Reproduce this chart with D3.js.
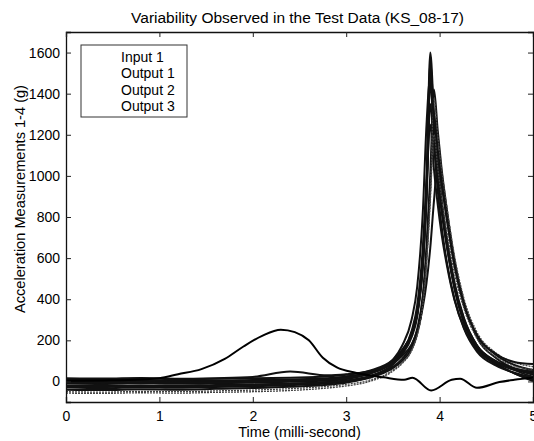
<!DOCTYPE html>
<html>
<head>
<meta charset="utf-8">
<script src="https://cdn.jsdelivr.net/npm/d3@7"></script>
<style>
body { margin: 0; background: #fff; }
svg { font-family: "Liberation Sans", Arial, sans-serif; }
</style>
</head>
<body>
<svg id="drawing_region"></svg>
<script>
// Input 1 (one smooth pulse, then small wiggles)
const inputTime = [0, 0.4, 0.8, 1.0, 1.2, 1.45, 1.7, 1.9, 2.1, 2.3, 2.45, 2.6, 2.75, 2.9, 3.1, 3.4, 3.62, 3.71, 3.91, 4.13, 4.22, 4.4, 4.64, 4.8, 5.0];
const input1 = [3, 5, 10, 16, 35, 60, 110, 170, 222, 252, 240, 200, 115, 68, 42, 20, 8, 18, -44, 8, 13, -31, -3, 8, 18];

// Outputs 1-3 of all tests share one time base
const outTime = [0, 0.4, 0.8, 1.2, 1.6, 2.0, 2.4, 2.8, 3.0, 3.25, 3.5, 3.6, 3.7, 3.76, 3.82, 3.86, 3.9, 3.94, 3.98, 4.02, 4.08, 4.16, 4.26, 4.4, 4.6, 4.8, 5.0];
const run1  = [5, 8, 3, 6, 4, 7, 10, 16, 24, 45, 100, 150, 235, 340, 600, 960, 1600, 1300, 1060, 870, 660, 450, 285, 160, 85, 40, 8];
const run2  = [0, -2, 2, -3, 1, 3, 6, 12, 20, 40, 95, 145, 228, 330, 585, 930, 1550, 1270, 1040, 860, 660, 455, 290, 165, 88, 40, 2];
const run3  = [-10, -12, -8, -11, -9, -6, -2, 4, 12, 38, 105, 175, 300, 460, 820, 1250, 1480, 1160, 930, 760, 575, 400, 258, 145, 78, 42, 18];
const run4  = [-20, -22, -18, -21, -17, -15, -10, -3, 5, 25, 72, 110, 175, 255, 420, 660, 1000, 1420, 1220, 1040, 830, 590, 385, 215, 115, 62, 32];
const run5  = [12, 10, 14, 11, 13, 15, 18, 24, 32, 52, 105, 155, 232, 330, 560, 880, 1350, 1150, 980, 830, 650, 460, 300, 175, 100, 65, 45];
const run6  = [-30, -33, -28, -31, -27, -24, -18, -10, -2, 18, 65, 100, 160, 235, 390, 610, 940, 1300, 1130, 980, 790, 570, 380, 225, 130, 80, 55];
const run7  = [-40, -42, -38, -40, -36, -32, -26, -16, -6, 22, 85, 145, 245, 370, 650, 980, 1250, 1030, 860, 720, 560, 395, 262, 155, 90, 58, 40];
const run8  = [-5, -3, -7, -4, -6, -2, 2, 9, 16, 38, 92, 142, 225, 325, 575, 920, 1450, 1220, 1030, 870, 675, 470, 305, 175, 98, 62, 48];
const run9  = [-50, -52, -48, -50, -46, -42, -35, -24, -14, 6, 55, 92, 150, 225, 370, 580, 900, 1380, 1200, 1040, 840, 610, 405, 240, 140, 92, 72];
const run10 = [15, 14, 17, 13, 16, 22, 48, 30, 35, 50, 90, 125, 180, 245, 360, 480, 650, 880, 1060, 960, 780, 560, 370, 225, 135, 95, 85];
const run11 = [-25, -27, -23, -26, -22, -18, -12, -4, 4, 26, 82, 132, 215, 315, 565, 910, 1500, 1260, 1060, 890, 690, 480, 310, 175, 95, 55, 22];
const run12 = [-57, -58, -55, -57, -53, -50, -44, -32, -22, 0, 50, 88, 150, 225, 370, 570, 870, 1200, 1040, 900, 720, 525, 355, 210, 120, 75, 58];
const runs = [run1, run2, run3, run4, run5, run6, run7, run8, run9, run10, run11, run12];
const dottedRuns = [8, 11]; // faint dotted traces in the scan (run9, run12)

const legendLabels = ["Input 1", "Output 1", "Output 2", "Output 3"];
const xTicks = [0, 1, 2, 3, 4, 5];
const yTicks = [0, 200, 400, 600, 800, 1000, 1200, 1400, 1600];

const config = {
    parent: '#drawing_region',
    width: 534,
    height: 441,
    margin: {top: 32, right: 1, bottom: 39, left: 66}
};

let svg = d3.select(config.parent)
    .attr('width', config.width)
    .attr('height', config.height);

const inner_width = config.width - config.margin.left - config.margin.right;
const inner_height = config.height - config.margin.top - config.margin.bottom;

let chart = svg.append('g')
    .attr('transform', `translate(${config.margin.left}, ${config.margin.top})`);

const xscale = d3.scaleLinear()
    .domain([0, 5])
    .range([0, inner_width]);

const yscale = d3.scaleLinear()
    .domain([-100, 1700])
    .range([inner_height, 0]);

// traces, clipped to the axes box
chart.append('clipPath').attr('id', 'clip')
    .append('rect')
    .attr('width', inner_width)
    .attr('height', inner_height);

const plot = chart.append('g').attr('clip-path', 'url(#clip)');

const outLine = d3.line()
    .x((d, i) => xscale(outTime[i]))
    .y(d => yscale(d))
    .curve(d3.curveMonotoneX);

plot.selectAll('path.run')
    .data(runs)
    .enter()
    .append('path')
    .attr('class', 'run')
    .attr('d', d => outLine(d))
    .attr('fill', 'none')
    .attr('stroke', (d, i) => dottedRuns.includes(i) ? '#444' : '#111')
    .attr('stroke-width', (d, i) => dottedRuns.includes(i) ? 1.3 : 2)
    .attr('stroke-dasharray', (d, i) => dottedRuns.includes(i) ? '2,1' : null);

const inLine = d3.line()
    .x((d, i) => xscale(inputTime[i]))
    .y(d => yscale(d))
    .curve(d3.curveMonotoneX);

plot.append('path')
    .attr('d', inLine(input1))
    .attr('fill', 'none')
    .attr('stroke', '#000')
    .attr('stroke-width', 2);

// axes box with inward ticks (matlab style)
const xaxis = d3.axisBottom(xscale).tickValues(xTicks).tickSize(-5).tickPadding(9).tickFormat(d3.format('d'));
const yaxis = d3.axisLeft(yscale).tickValues(yTicks).tickSize(-5).tickPadding(6).tickFormat(d3.format('d'));
const xaxisTop = d3.axisTop(xscale).tickValues(xTicks).tickSize(-5).tickFormat('');
const yaxisRight = d3.axisRight(yscale).tickValues(yTicks).tickSize(-5).tickFormat('');

chart.append('g')
    .attr('transform', `translate(0, ${inner_height})`)
    .call(xaxis);
chart.append('g').call(yaxis);
chart.append('g').call(xaxisTop);
chart.append('g')
    .attr('transform', `translate(${inner_width}, 0)`)
    .call(yaxisRight);

chart.selectAll('.domain').attr('stroke', '#111').attr('stroke-width', 1.3);
chart.selectAll('.tick line').attr('stroke', '#222');
chart.selectAll('.tick text')
    .attr('font-size', '14px')
    .attr('font-family', '"Liberation Sans", Arial, sans-serif')
    .attr('fill', '#000');

// legend
const legend = chart.append('g')
    .attr('transform', `translate(${81 - config.margin.left}, ${45 - config.margin.top})`);
legend.append('rect')
    .attr('width', 106)
    .attr('height', 72)
    .attr('fill', '#fff')
    .attr('stroke', '#333')
    .attr('stroke-width', 1);
legend.selectAll('text')
    .data(legendLabels)
    .enter()
    .append('text')
    .attr('x', 40)
    .attr('y', (d, i) => 17 + i * 16.3)
    .attr('font-size', '14px')
    .attr('fill', '#000')
    .text(d => d);

// labels
svg.append('text')
    .attr('x', config.margin.left + inner_width / 2 - 2)
    .attr('y', 23)
    .attr('text-anchor', 'middle')
    .attr('font-size', '15.5px')
    .text('Variability Observed in the Test Data (KS_08-17)');

svg.append('text')
    .attr('x', config.margin.left + inner_width / 2)
    .attr('y', 437)
    .attr('text-anchor', 'middle')
    .attr('font-size', '14.6px')
    .text('Time (milli-second)');

svg.append('text')
    .attr('transform', `translate(25, 199) rotate(-90)`)
    .attr('text-anchor', 'middle')
    .attr('font-size', '14.6px')
    .text('Acceleration Measurements 1-4 (g)');
</script>
</body>
</html>
